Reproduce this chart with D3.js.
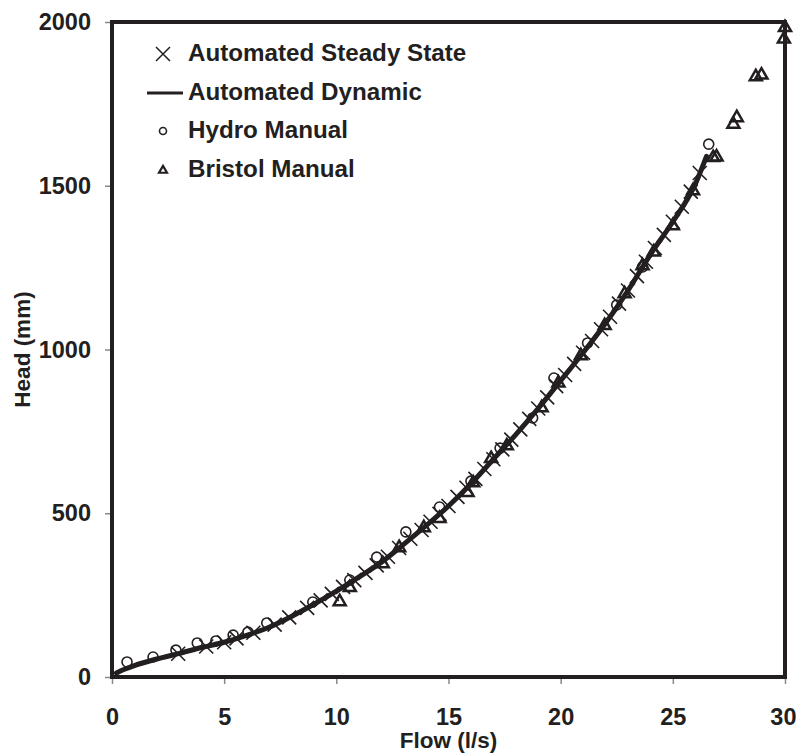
<!DOCTYPE html>
<html>
<head>
<meta charset="utf-8">
<script src="https://cdn.jsdelivr.net/npm/d3@7"></script>
<style>
  html, body { margin: 0; padding: 0; background: #fff; }
  svg { display: block; }
  text { font-family: "Liberation Sans", Arial, sans-serif; font-weight: bold; fill: #231f20; }
</style>
</head>
<body>
<svg id="chart" width="796" height="753"></svg>
<script>
// ---- Data ----
const xTicks = [0, 5, 10, 15, 20, 25, 30];
const yTicks = [0, 500, 1000, 1500, 2000];

// Automated Dynamic (line): flow (l/s), head (mm)
const dynFlow = [0.2, 0.5, 1.0, 2.0, 3.0, 4.0, 5.0, 6.0, 7.0, 8.0, 9.0, 10.0, 11.0, 12.0, 13.0, 14.0, 15.0, 16.0, 17.0, 18.0, 19.0, 20.0, 21.0, 22.0, 23.0, 24.0, 25.0, 26.0, 26.5];
const dynHead = [12, 22, 35, 55, 72, 90, 106, 127, 152, 185, 222, 262, 305, 350, 405, 462, 522, 590, 665, 740, 820, 905, 990, 1080, 1180, 1290, 1390, 1505, 1590];

// Automated Steady State (crosses)
const ssFlow = [2.95, 4.2, 5.0, 5.55, 6.3, 7.25, 7.9, 8.7, 9.3, 9.8, 10.3, 10.8, 11.3, 11.8, 12.3, 12.8, 13.3, 13.8, 14.2, 14.6, 15.0, 15.4, 15.8, 16.2, 16.6, 17.0, 17.4, 17.8, 18.2, 18.6, 19.0, 19.4, 19.8, 20.2, 20.6, 21.0, 21.4, 21.8, 22.2, 22.6, 23.0, 23.4, 23.8, 24.2, 24.6, 25.0, 25.4, 25.8, 26.2];
const ssHead = [71, 93, 106, 118, 135, 160, 182, 211, 234, 254, 275, 296, 318, 341, 367, 394, 422, 449, 474, 498, 522, 550, 578, 605, 635, 665, 695, 725, 756, 788, 820, 854, 888, 922, 956, 990, 1026, 1062, 1100, 1140, 1180, 1224, 1268, 1310, 1350, 1390, 1436, 1482, 1539];

// Hydro Manual (circles)
const hydroFlow = [0.67, 1.83, 2.85, 3.8, 4.63, 5.4, 6.06, 6.9, 8.95, 10.6, 11.8, 13.1, 14.6, 16.0, 17.3, 18.75, 19.7, 21.2, 22.5, 23.65, 26.6];
const hydroHead = [46, 61, 82, 104, 110, 128, 137, 165, 229, 296, 366, 443, 519, 598, 699, 791, 913, 1020, 1136, 1252, 1627];

// Bristol Manual (triangles)
const bristolFlow = [10.15, 10.6, 12.07, 12.8, 13.9, 14.6, 15.85, 16.1, 16.9, 17.6, 19.15, 19.9, 20.9, 21.96, 22.85, 23.65, 24.15, 25.0, 25.9, 26.8, 26.95, 27.7, 27.85, 28.7, 28.95, 29.95, 30.0];
const bristolHead = [232, 275, 348, 397, 458, 486, 565, 595, 669, 708, 824, 900, 983, 1075, 1172, 1258, 1300, 1380, 1487, 1588, 1590, 1690, 1710, 1835, 1840, 1950, 1985];

const legendLabels = ["Automated Steady State", "Automated Dynamic", "Hydro Manual", "Bristol Manual"];

// ---- Chart ----
const ink = "#231f20";
const svg = d3.select("#chart");
const x = d3.scaleLinear().domain([0, 30]).range([112, 785]);
const y = d3.scaleLinear().domain([0, 2000]).range([677, 22]);

const zip = (a, b) => a.map((v, i) => [v, b[i]]);

// axes
const xAxis = svg.append("g").attr("transform", `translate(0,${y(0)})`)
  .call(d3.axisBottom(x).tickValues(xTicks).tickSize(7).tickPadding(24).tickFormat(d3.format("d")));
const yAxis = svg.append("g").attr("transform", `translate(${x(0)},0)`)
  .call(d3.axisLeft(y).tickValues(yTicks).tickSize(7).tickPadding(14).tickFormat(d3.format("d")));
[xAxis, yAxis].forEach(g => {
  g.select(".domain").remove();
  g.selectAll(".tick line").attr("stroke", "#888").attr("stroke-width", 1.5);
  g.selectAll(".tick text").attr("font-size", 23.5).attr("font-family", '"Liberation Sans", Arial, sans-serif')
    .attr("font-weight", "bold").attr("fill", ink);
});
// keep the last x label inside the picture, as in the reference
xAxis.selectAll(".tick").filter(d => d === 30).select("text")
  .attr("text-anchor", "end").attr("x", 11);

// frame
svg.append("rect").attr("x", x(0)).attr("y", y(2000))
  .attr("width", x(30) - x(0)).attr("height", y(0) - y(2000))
  .attr("fill", "none").attr("stroke", ink).attr("stroke-width", 4);

// axis titles
svg.append("text").attr("x", (x(0) + x(30)) / 2).attr("y", 748)
  .attr("text-anchor", "middle").attr("font-size", 22.5).text("Flow (l/s)");
svg.append("text").attr("transform", `translate(30,${(y(0) + y(2000)) / 2}) rotate(-90)`)
  .attr("text-anchor", "middle").attr("font-size", 22.5).text("Head (mm)");

// markers
const crossPath = s => `M${-s},${-s}L${s},${s}M${-s},${s}L${s},${-s}`;
const triPath = s => { const h = s * Math.sqrt(3) / 2; return `M0,${-h * 0.6}L${s / 2},${h * 0.4}L${-s / 2},${h * 0.4}Z`; };

const plot = svg.append("g");

// Steady state crosses
plot.selectAll(".ss").data(zip(ssFlow, ssHead)).join("path")
  .attr("transform", d => `translate(${x(d[0])},${y(d[1])})`)
  .attr("d", crossPath(7)).attr("stroke", ink).attr("stroke-width", 1.6).attr("fill", "none");

// Hydro circles
plot.selectAll(".hy").data(zip(hydroFlow, hydroHead)).join("circle")
  .attr("cx", d => x(d[0])).attr("cy", d => y(d[1])).attr("r", 5)
  .attr("fill", "none").attr("stroke", ink).attr("stroke-width", 1.6);

// Bristol triangles
plot.selectAll(".br").data(zip(bristolFlow, bristolHead)).join("path")
  .attr("transform", d => `translate(${x(d[0])},${y(d[1])})`)
  .attr("d", triPath(12)).attr("fill", "none").attr("stroke", ink).attr("stroke-width", 2.5);

// Dynamic line
plot.append("path").datum(zip(dynFlow, dynHead))
  .attr("d", d3.line().x(d => x(d[0])).y(d => y(d[1])).curve(d3.curveMonotoneX))
  .attr("fill", "none").attr("stroke", ink).attr("stroke-width", 5).attr("stroke-linecap", "round");

// legend
const leg = svg.append("g");
const rowY = [54, 93, 131, 170];
leg.append("path").attr("transform", `translate(163,${rowY[0]})`).attr("d", crossPath(7))
  .attr("stroke", ink).attr("stroke-width", 1.5);
leg.append("line").attr("x1", 147).attr("x2", 183).attr("y1", rowY[1]).attr("y2", rowY[1])
  .attr("stroke", ink).attr("stroke-width", 3);
leg.append("circle").attr("cx", 163).attr("cy", rowY[2]).attr("r", 3.5)
  .attr("fill", "none").attr("stroke", ink).attr("stroke-width", 1.6);
leg.append("path").attr("transform", `translate(163,${rowY[3]})`).attr("d", triPath(8))
  .attr("fill", "none").attr("stroke", ink).attr("stroke-width", 2.2);
leg.selectAll(".lt").data(legendLabels).join("text")
  .attr("x", 188).attr("y", (d, i) => rowY[i] + 7).attr("font-size", 24.2).text(d => d);
</script>
</body>
</html>
